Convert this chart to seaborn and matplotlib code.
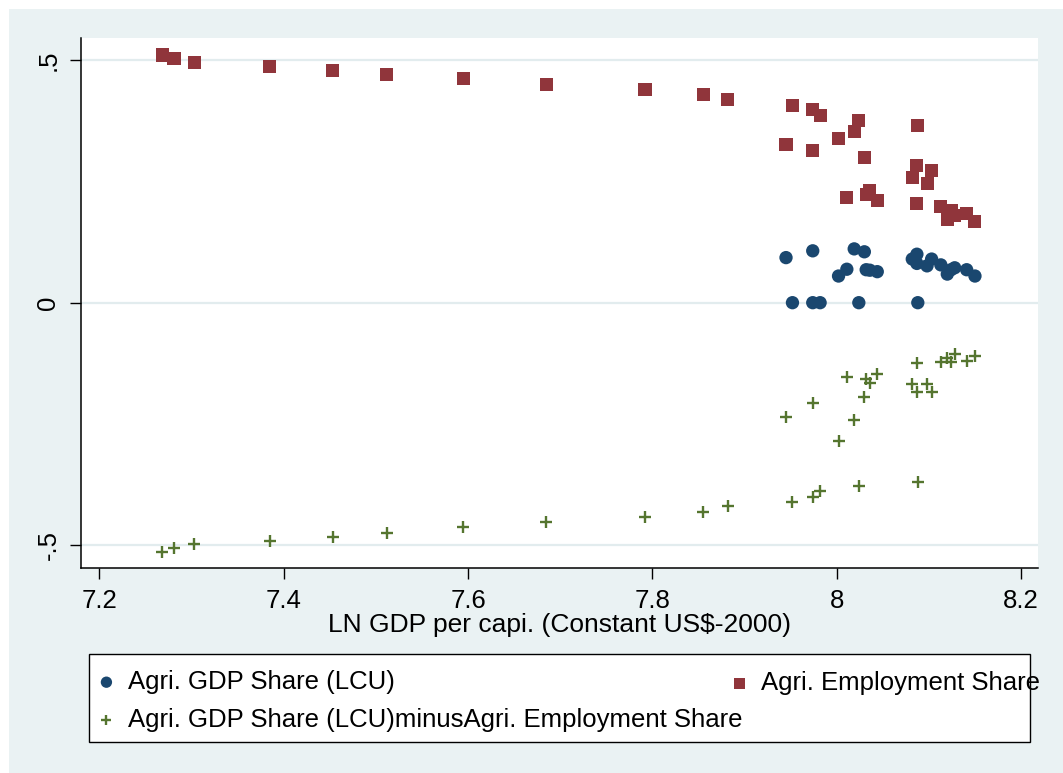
import numpy as np
import matplotlib
matplotlib.use("Agg")
import matplotlib.pyplot as plt
from matplotlib.patches import Rectangle
from matplotlib.ticker import FixedLocator, FixedFormatter
import seaborn as sns

# Log GDP per capita (constant 2000 US$) for each country-year
ln_gdp = [7.268, 7.281, 7.303, 7.385, 7.453, 7.512, 7.595, 7.685, 7.792, 7.855, 7.882,
          7.945, 7.952, 7.974, 7.974, 7.982, 8.002, 8.011, 8.019, 8.024, 8.030, 8.032,
          8.036, 8.044, 8.082, 8.087, 8.087, 8.088, 8.098, 8.103, 8.113, 8.120, 8.124,
          8.128, 8.141, 8.150]

# Agricultural share of GDP (LCU); nan where not reported
nan = np.nan
agri_gdp_share = [nan, nan, nan, nan, nan, nan, nan, nan, nan, nan, nan,
                  0.093, 0.0, 0.107, 0.0, 0.0, 0.055, 0.069, 0.111, 0.0, 0.105, 0.068,
                  0.067, 0.064, 0.090, 0.100, 0.081, 0.0, 0.076, 0.090, 0.078, 0.059, 0.068,
                  0.072, 0.068, 0.055]

# Agricultural share of employment
agri_emp_share = [0.511, 0.503, 0.496, 0.488, 0.480, 0.471, 0.462, 0.450, 0.440, 0.429, 0.419,
                  0.327, 0.406, 0.314, 0.398, 0.387, 0.339, 0.218, 0.353, 0.376, 0.299, 0.224,
                  0.232, 0.210, 0.259, 0.284, 0.205, 0.366, 0.246, 0.272, 0.198, 0.171, 0.190,
                  0.179, 0.184, 0.167]

# GDP share minus employment share
gdp_minus_emp = [-0.514, -0.506, -0.498, -0.491, -0.483, -0.475, -0.463, -0.453, -0.442, -0.432, -0.420,
                 -0.235, -0.411, -0.206, -0.400, -0.389, -0.285, -0.153, -0.243, -0.378, -0.195, -0.158,
                 -0.165, -0.147, -0.168, -0.184, -0.124, -0.369, -0.168, -0.184, -0.123, -0.115, -0.122,
                 -0.106, -0.120, -0.110]

series_labels = ["Agri. GDP Share (LCU)",
                 "Agri. Employment Share",
                 "Agri. GDP Share (LCU)minusAgri. Employment Share"]
x_ticks = [7.2, 7.4, 7.6, 7.8, 8.0, 8.2]
x_tick_labels = ["7.2", "7.4", "7.6", "7.8", "8", "8.2"]
y_ticks = [0.5, 0.0, -0.5]
y_tick_labels = [".5", "0", "-.5"]
x_title = "LN GDP per capi. (Constant US$-2000)"

NAVY = "#1A476F"
MAROON = "#90353B"
GREEN = "#55752F"
REGION = "#EAF2F3"

sns.set_style("ticks")
plt.rcParams["font.family"] = ["Liberation Sans", "DejaVu Sans"]
plt.rcParams["text.color"] = "black"

W, H = 1063, 773
fig = plt.figure(figsize=(W / 100, H / 100), dpi=100, facecolor="white")

# graph region background
fig.patches.append(Rectangle((9 / W, 0), 1 - 9 / W, 1 - 9 / H, transform=fig.transFigure,
                             facecolor=REGION, edgecolor="none", zorder=-10))

ax = fig.add_axes([81 / W, 1 - 568 / H, (1038 - 81) / W, (568 - 38) / H])
ax.set_zorder(1)
ax.set_facecolor("white")

sns.scatterplot(x=ln_gdp, y=agri_gdp_share, ax=ax, marker="o", s=92, color=NAVY,
                edgecolor="none", linewidth=0, label=series_labels[0], legend=False, zorder=3)
sns.scatterplot(x=ln_gdp, y=agri_emp_share, ax=ax, marker="s", s=88, color=MAROON,
                edgecolor="none", linewidth=0, label=series_labels[1], legend=False, zorder=3)
sns.scatterplot(x=ln_gdp, y=gdp_minus_emp, ax=ax, marker="+", s=85, color=GREEN,
                linewidth=1.7, label=series_labels[2], legend=False, zorder=3)

ax.set_xlim(7.1801, 8.2184)
ax.set_ylim(-0.5474, 0.5461)

ax.xaxis.set_major_locator(FixedLocator(x_ticks))
ax.xaxis.set_major_formatter(FixedFormatter(x_tick_labels))
ax.yaxis.set_major_locator(FixedLocator(y_ticks))
ax.yaxis.set_major_formatter(FixedFormatter(y_tick_labels))

ax.tick_params(axis="both", direction="out", length=7.8, width=1.0, color="black",
               labelsize=18.5, labelcolor="black", pad=7)
for lbl in ax.get_yticklabels():
    lbl.set_rotation(90)
    lbl.set_va("center")

ax.yaxis.grid(True, color="#E2ECEE", linewidth=1.6, zorder=0)
ax.xaxis.grid(False)
ax.set_axisbelow(True)

for side in ["top", "right"]:
    ax.spines[side].set_visible(False)
for side in ["left", "bottom"]:
    ax.spines[side].set_color("black")
    ax.spines[side].set_linewidth(1.1)

ax.set_xlabel(x_title, fontsize=19, labelpad=0, color="black")
ax.set_ylabel("")

# legend box
fig.patches.append(Rectangle((89 / W, 1 - 742 / H), (1030 - 89) / W, (742 - 654) / H,
                             transform=fig.transFigure, facecolor="white",
                             edgecolor="black", linewidth=1.0, zorder=2))

handles, labels = ax.get_legend_handles_labels()
hmap = dict(zip(labels, handles))

leg_kw = dict(frameon=False, fontsize=18.5, markerscale=0.85, handlelength=0.5,
              handletextpad=0.6, borderpad=0, borderaxespad=0, labelspacing=0.55,
              labelcolor="black")
leg1 = fig.legend([hmap[series_labels[0]], hmap[series_labels[2]]],
                  [series_labels[0], series_labels[2]],
                  loc="center left", bbox_to_anchor=(100 / W, 1 - 701 / H), **leg_kw)
leg2 = fig.legend([hmap[series_labels[1]]], [series_labels[1]],
                  loc="center left", bbox_to_anchor=(733 / W, 1 - 683 / H), **leg_kw)
for lg in (leg1, leg2):
    lg.set_zorder(3)

fig.savefig("out.png", dpi=100, facecolor=fig.get_facecolor())
